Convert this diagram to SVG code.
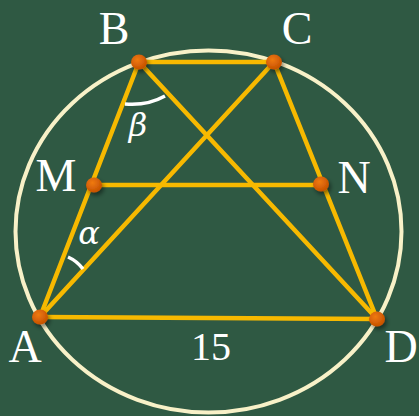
<svg xmlns="http://www.w3.org/2000/svg" width="419" height="416" viewBox="0 0 419 416">
<style>
.seg{stroke:#f7b900;stroke-width:4.5;stroke-linecap:round;fill:none}
.arc{stroke:#ffffff;stroke-width:3.5;fill:none}
.lbl{font-family:"Liberation Serif","DejaVu Serif",serif;fill:#ffffff;font-size:46px;text-anchor:middle}
.gr{font-family:"DejaVu Serif","Liberation Serif",serif;font-style:italic;fill:#ffffff;font-size:32px;text-anchor:middle}
</style>
<defs>
<radialGradient id="dot" cx="0.4" cy="0.35" r="0.7">
<stop offset="0" stop-color="#f07a10"/>
<stop offset="1" stop-color="#c24e00"/>
</radialGradient>
<filter id="sh" x="-50%" y="-50%" width="200%" height="200%">
<feDropShadow dx="2" dy="3" stdDeviation="2" flood-color="#000" flood-opacity="0.45"/>
</filter>
</defs>
<rect width="419" height="416" fill="#2f5943"/>
<ellipse cx="208.5" cy="231.5" rx="193" ry="181" fill="none" stroke="#f8f1c8" stroke-width="4"/>
<g id="connectors">
<line class="seg" x1="139" y1="62" x2="274" y2="62"/>
<line class="seg" x1="40" y1="317" x2="377" y2="319"/>
<line class="seg" x1="40" y1="317" x2="139" y2="62"/>
<line class="seg" x1="274" y1="62" x2="377" y2="319"/>
<line class="seg" x1="40" y1="317" x2="274" y2="62"/>
<line class="seg" x1="139" y1="62" x2="377" y2="319"/>
<line class="seg" x1="94" y1="185" x2="321" y2="185"/>
<path class="arc" d="M125,104 Q147,106 165,96"/>
<path class="arc" d="M68,257 Q77,261 83,269"/>
</g>
<g id="B"><ellipse cx="139" cy="62" rx="8" ry="7.5" fill="url(#dot)" filter="url(#sh)"/><text class="lbl" x="114" y="44">B</text></g>
<g id="C"><ellipse cx="274" cy="62" rx="8" ry="7.5" fill="url(#dot)" filter="url(#sh)"/><text class="lbl" x="297" y="44">C</text></g>
<g id="M"><ellipse cx="94" cy="185" rx="8" ry="7.5" fill="url(#dot)" filter="url(#sh)"/><text class="lbl" x="56" y="191">M</text></g>
<g id="N"><ellipse cx="321" cy="184" rx="8" ry="7.5" fill="url(#dot)" filter="url(#sh)"/><text class="lbl" x="354" y="193">N</text></g>
<g id="A"><ellipse cx="40" cy="317" rx="8" ry="7.5" fill="url(#dot)" filter="url(#sh)"/><text class="lbl" x="25" y="362">A</text></g>
<g id="D"><ellipse cx="377" cy="319" rx="8" ry="7.5" fill="url(#dot)" filter="url(#sh)"/><text class="lbl" x="401" y="362">D</text></g>
<text class="gr" x="138" y="136">β</text>
<text class="gr" x="89" y="244">α</text>
<text class="lbl" x="211" y="360" style="font-size:40px">15</text>
</svg>
